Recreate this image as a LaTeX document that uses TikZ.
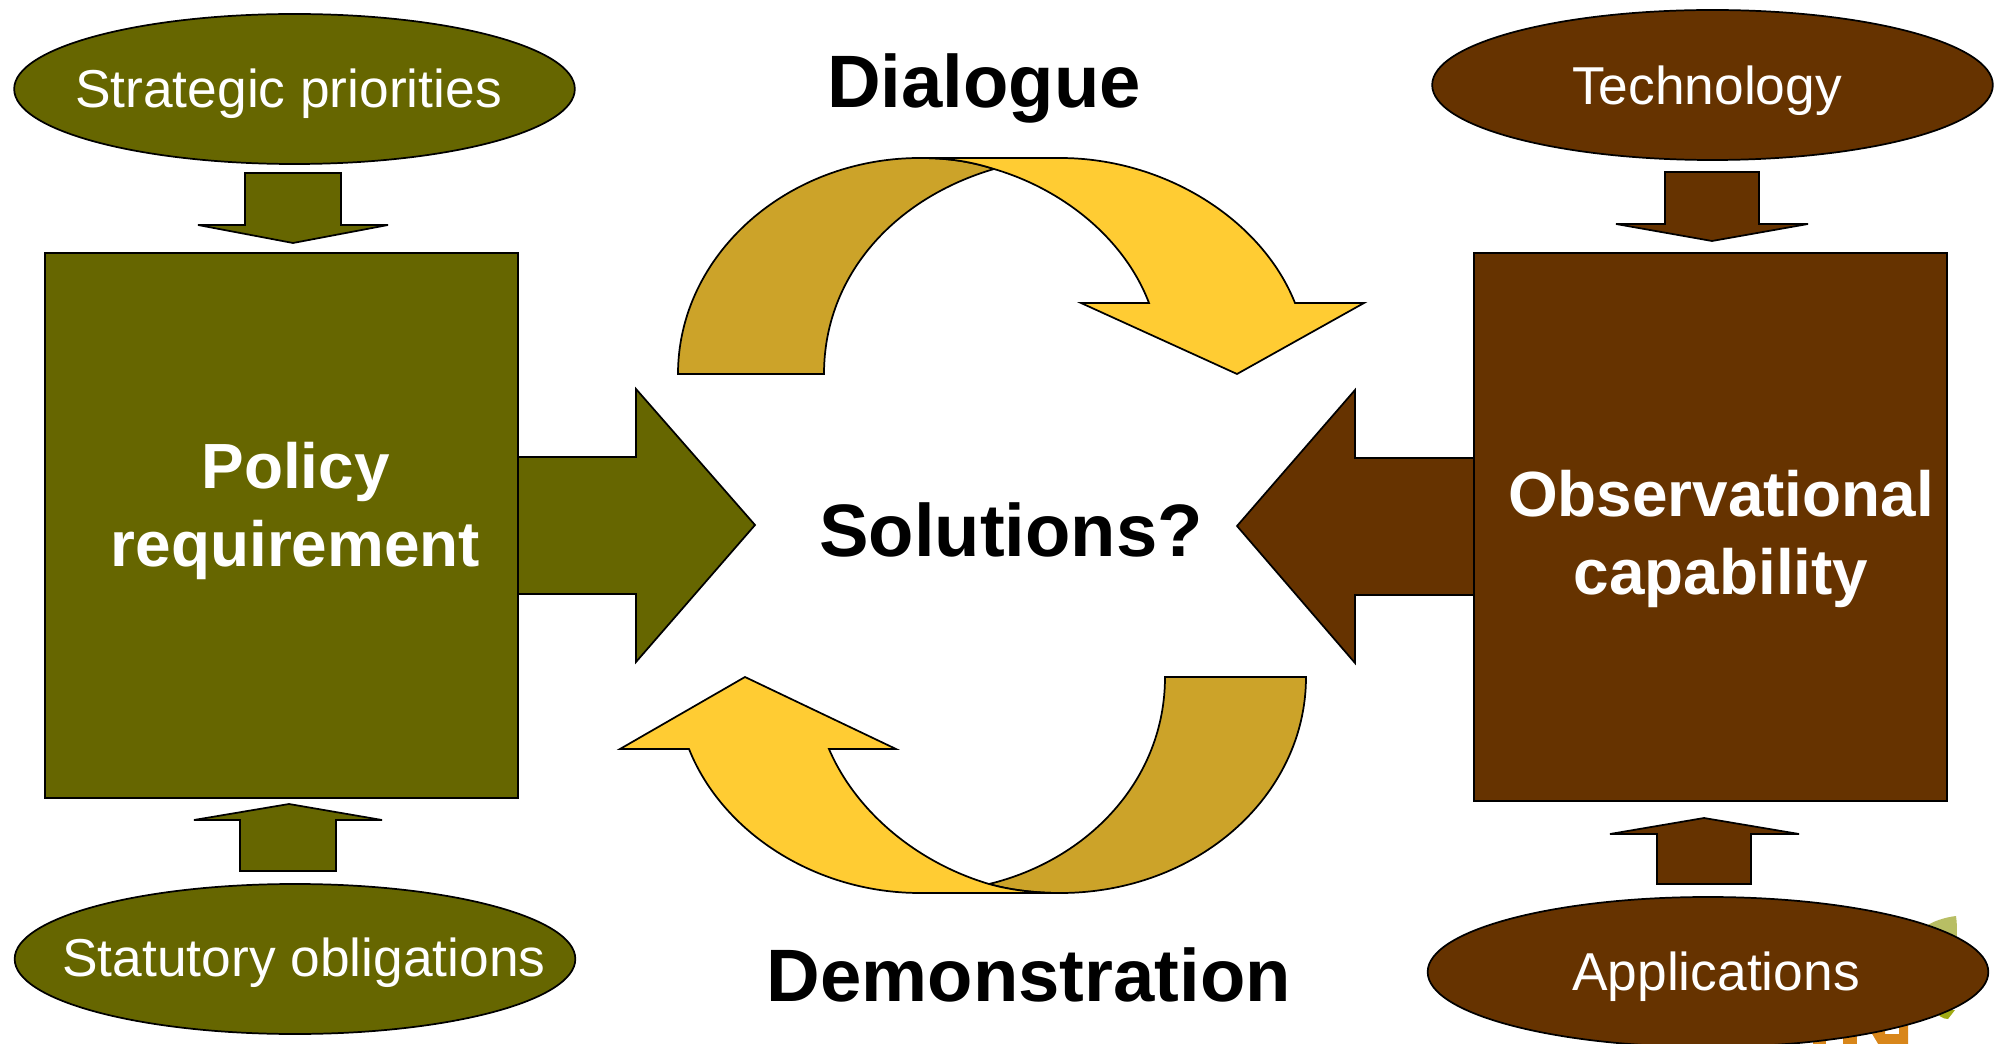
\documentclass[tikz,border=0pt]{standalone}
\usepackage{fontspec}
\setmainfont{Liberation Sans}
\definecolor{policyolive}{RGB}{102,102,0}
\definecolor{obsbrown}{RGB}{102,51,0}
\definecolor{loopgold}{RGB}{204,163,41}
\definecolor{loopyellow}{RGB}{255,204,51}
\definecolor{logoleaf}{RGB}{184,190,100}
\definecolor{logodark}{RGB}{160,170,20}
\definecolor{logoorange}{RGB}{216,134,26}
\tikzset{
  oval/.style={draw=black,ellipse,line width=1.3pt,minimum width=420.5pt,minimum height=112.5pt,inner sep=0pt},
  ovallabel/.style={text=white,font=\fontsize{40}{48}\selectfont},
  bigbox/.style={draw=black,line width=1.3pt,inner sep=0pt},
  blockarrow/.style={draw=black,line width=1.3pt,line join=miter},
  boxlabel/.style={text=white,align=center,font=\fontsize{47.9}{59}\selectfont\bfseries},
  headlabel/.style={text=black,font=\fontsize{55.7}{60}\selectfont\bfseries}
}
\usetikzlibrary{shapes.geometric}
\begin{document}
\begin{tikzpicture}[x=0.75pt,y=0.75pt,yscale=-1,xscale=1]
\useasboundingbox (0,0) rectangle (2003,1044);
\clip (0,0) rectangle (2003,1044);

%Logo behind the ellipse
\fill [logoleaf] (1915,935) .. controls (1925,924) and (1940,918) .. (1956,916) .. controls (1958,930) and (1957,945) .. (1952,960) -- (1915,960) -- cycle;
\fill [logodark] (1935,1010) -- (1955,1010) -- (1948,1019) .. controls (1943,1019) and (1938,1016) .. (1935,1010) -- cycle;
\fill [logoorange,even odd rule] (1872,1015) rectangle (1908,1044) (1885,1015) rectangle (1899,1034);
\fill [white] (1872,1034) -- (1878,1044) -- (1872,1044) -- cycle;
\fill [logoorange] (1813,1030) rectangle (1826,1044);
\fill [logoorange] (1843,1030) rectangle (1857,1044);

%Shape: Ellipse
\node [oval,fill=policyolive] (strategic) at (294.5,89) {};
\node [oval,fill=obsbrown] (technology) at (1712.5,85) {};
\node [oval,fill=policyolive] (statutory) at (295,959) {};
\node [oval,fill=obsbrown] (applications) at (1708,972) {};

%Shape: Rectangle
\node [bigbox,fill=policyolive,minimum width=355pt,minimum height=408.75pt] (policy) at (281.5,525.5) {};
\node [bigbox,fill=obsbrown,minimum width=355pt,minimum height=411pt] (observe) at (1710.5,527) {};

%Shape: Right Arrow
\draw [blockarrow,fill=policyolive] (policy.east |- 0,457) -- (636,457) -- (636,389) -- (755,525) -- (636,662) -- (636,594) -- (policy.east |- 0,594);
%Shape: Left Arrow
\draw [blockarrow,fill=obsbrown] (observe.west |- 0,458) -- (1355,458) -- (1355,390) -- (1237,526) -- (1355,663) -- (1355,595) -- (observe.west |- 0,595);

%Shape: Down Arrow
\draw [blockarrow,fill=policyolive] (245,173) -- (341,173) -- (341,225) -- (388,225) -- (293,243) -- (198,225) -- (245,225) -- cycle;
\draw [blockarrow,fill=obsbrown] (1665,172) -- (1759,172) -- (1759,224) -- (1808,224) -- (1712,241) -- (1616,224) -- (1665,224) -- cycle;
%Shape: Up Arrow
\draw [blockarrow,fill=policyolive] (240,871) -- (336,871) -- (336,820) -- (382,820) -- (289,804) -- (194,820) -- (240,820) -- cycle;
\draw [blockarrow,fill=obsbrown] (1657,884) -- (1751,884) -- (1751,834) -- (1799,834) -- (1704,818) -- (1610,834) -- (1657,834) -- cycle;

%Shape: Curved Arrow, top
\draw [blockarrow,fill=loopgold] (678,374) .. controls (678,255) and (787,158) .. (920,158) .. controls (950,158) and (972,162) .. (994,169) .. controls (895,198) and (824,275) .. (824,374) -- cycle;
\draw [blockarrow,fill=loopyellow] (920,158) -- (1060,158) .. controls (1165,158) and (1262,220) .. (1295,303) -- (1364,303) -- (1237,374) -- (1081,303) -- (1149,303) .. controls (1125,240) and (1065,190) .. (994,169) .. controls (972,162) and (950,158) .. (920,158) -- cycle;

%Shape: Curved Arrow, bottom
\draw [blockarrow,fill=loopgold] (1306,677) .. controls (1306,796) and (1197,893) .. (1060,893) .. controls (1035,893) and (1010,890) .. (989,884) .. controls (1088,860) and (1165,780) .. (1165,677) -- cycle;
\draw [blockarrow,fill=loopyellow] (1060,893) -- (920,893) .. controls (815,893) and (722,832) .. (689,749) -- (620,749) -- (745,677) -- (896,749) -- (829,749) .. controls (855,810) and (915,862) .. (989,884) .. controls (1010,890) and (1035,893) .. (1060,893) -- cycle;

% Text Node
\node [ovallabel] (strategictext) at (288.5,93.5) {Strategic priorities};
\node [ovallabel] (technologytext) at (1707,91) {Technology};
\node [ovallabel] (statutorytext) at (304,963) {Statutory obligations};
\node [ovallabel] (applicationstext) at (1716,977) {Applications};
\node [boxlabel] (policytext) at (295.5,511) {Policy\\requirement};
\node [boxlabel] (observetext) at (1721,539) {Observational\\capability};
\node [headlabel] (dialogue) at (984,88.5) {Dialogue};
\node [headlabel] (solutions) at (1011,530) {Solutions?};
\node [headlabel] (demonstration) at (1029,975) {Demonstration};

\end{tikzpicture}
\end{document}
